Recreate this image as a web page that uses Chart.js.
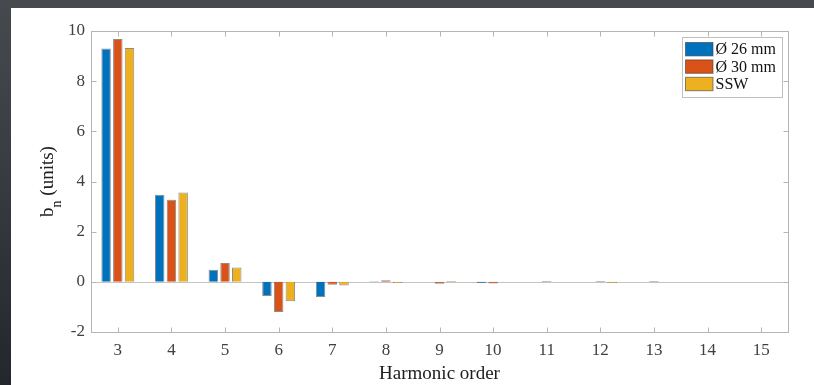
<!DOCTYPE html>
<html>
<head>
<meta charset="utf-8">
<script src="https://cdn.jsdelivr.net/npm/chart.js@4.4.1/dist/chart.umd.min.js"></script>
<style>
  html, body { margin: 0; padding: 0; width: 814px; height: 385px; overflow: hidden;
    background: linear-gradient(180deg, #46494e 0%, #3a3d43 40%, #23262d 100%); }
  #wrap { position: absolute; left: 11px; top: 8px; width: 803px; height: 377px; background: #ffffff; }
  canvas { display: block; }
</style>
</head>
<body>
<div id="wrap"><canvas id="c" width="803" height="377"></canvas></div>
<script>
// ---- data ----
const harmonicOrders = ['3','4','5','6','7','8','9','10','11','12','13','14','15'];
const seriesNames = ['Ø 26 mm', 'Ø 30 mm', 'SSW'];
const bn26 = [9.30, 3.47, 0.48, -0.56, -0.60, 0.02, 0.00, -0.05, 0.00, 0.00, 0.00, 0.00, 0.00];
const bn30 = [9.68, 3.27, 0.75, -1.20, -0.12, 0.06, -0.08, -0.07, 0.03, 0.03, 0.03, 0.00, 0.00];
const bnSSW = [9.32, 3.56, 0.57, -0.77, -0.15, -0.05, 0.03, 0.00, 0.00, -0.05, 0.00, 0.00, 0.00];
const yTicks = [-2, 0, 2, 4, 6, 8, 10];
const xTitle = 'Harmonic order';

const colors = ['#0072BD', '#D95319', '#EDB120'];
const edge = 'rgba(45,45,45,0.55)';
const axisColor = '#b5b5b5';
const textColor = '#404040';
const serif = "'Liberation Serif', 'Times New Roman', serif";

const boxPlugin = {
  id: 'boxPlugin',
  beforeDatasetsDraw(chart) {
    const {ctx, chartArea: a, scales: {y}} = chart;
    const y0 = y.getPixelForValue(0);
    ctx.save();
    ctx.strokeStyle = '#c4c4c4';
    ctx.lineWidth = 1;
    ctx.beginPath();
    ctx.moveTo(a.left, Math.round(y0) + 0.5);
    ctx.lineTo(a.right, Math.round(y0) + 0.5);
    ctx.stroke();
    ctx.restore();
  },
  afterDraw(chart) {
    const {ctx, chartArea: a, scales: {x, y}} = chart;
    ctx.save();
    ctx.strokeStyle = axisColor;
    ctx.lineWidth = 1;
    const L = Math.round(a.left) + 0.5, R = Math.round(a.right) + 0.5;
    const T = Math.round(a.top) + 0.5, B = Math.round(a.bottom) + 0.5;
    ctx.strokeRect(L, T, R - L, B - T);
    const tl = 5;
    ctx.beginPath();
    harmonicOrders.forEach((lab, i) => {
      const px = Math.round(x.getPixelForValue(i)) + 0.5;
      ctx.moveTo(px, B); ctx.lineTo(px, B - tl);
      ctx.moveTo(px, T); ctx.lineTo(px, T + tl);
    });
    yTicks.forEach(v => {
      const py = Math.round(y.getPixelForValue(v)) + 0.5;
      ctx.moveTo(L, py); ctx.lineTo(L + tl, py);
      ctx.moveTo(R, py); ctx.lineTo(R - tl, py);
    });
    ctx.stroke();

    // x title
    ctx.fillStyle = '#202020';
    ctx.font = '19px ' + serif;
    ctx.textAlign = 'center';
    ctx.textBaseline = 'middle';
    ctx.fillText(xTitle, (a.left + a.right) / 2, a.bottom + 42);

    // y title with subscript
    const cy = (a.top + a.bottom) / 2;
    ctx.translate(a.left - 38, cy);
    ctx.rotate(-Math.PI / 2);
    ctx.textAlign = 'left';
    ctx.textBaseline = 'alphabetic';
    ctx.font = '19px ' + serif;
    const wb = ctx.measureText('b').width;
    const wrest = ctx.measureText(' (units)').width;
    ctx.font = '14px ' + serif;
    const wn = ctx.measureText('n').width;
    const total = wb + wn + wrest;
    let sx = -total / 2;
    ctx.font = '19px ' + serif;
    ctx.fillText('b', sx, 0);
    ctx.font = '14px ' + serif;
    ctx.fillText('n', sx + wb, 8);
    ctx.font = '19px ' + serif;
    ctx.fillText(' (units)', sx + wb + wn, 0);
    ctx.restore();

    // legend
    ctx.save();
    const bw = 100, bh = 60;
    const bx = Math.round(a.right - 6 - bw) + 0.5, by = Math.round(a.top + 6) + 0.5;
    ctx.fillStyle = '#ffffff';
    ctx.fillRect(bx, by, bw, bh);
    ctx.strokeStyle = '#c0c0c0';
    ctx.strokeRect(bx, by, bw, bh);
    ctx.font = '16px ' + serif;
    ctx.textBaseline = 'middle';
    ctx.textAlign = 'left';
    chart.data.datasets.forEach((ds, i) => {
      const ry = by + 5 + i * 17.4;
      ctx.fillStyle = ds.backgroundColor;
      ctx.fillRect(bx + 3, ry, 27.5, 13.4);
      ctx.strokeStyle = 'rgba(60,60,60,0.6)';
      ctx.strokeRect(bx + 3, ry, 27.5, 13.4);
      ctx.fillStyle = '#111111';
      ctx.fillText(ds.label, bx + 33, ry + 7.5);
    });
    ctx.restore();
  }
};

const seriesData = [bn26, bn30, bnSSW];
new Chart(document.getElementById('c'), {
  type: 'bar',
  data: {
    labels: harmonicOrders,
    datasets: seriesNames.map((n, i) => ({
      label: n,
      data: seriesData[i],
      backgroundColor: colors[i],
      borderColor: edge,
      borderWidth: 1,
      categoryPercentage: 0.655,
      barPercentage: 0.81
    }))
  },
  options: {
    responsive: false,
    animation: false,
    devicePixelRatio: 1,
    layout: { padding: { top: 23, right: 26, left: 0, bottom: 0 } },
    plugins: { legend: { display: false }, tooltip: { enabled: false } },
    scales: {
      x: {
        offset: true,
        grid: { display: false, drawTicks: false },
        border: { display: false },
        ticks: { color: textColor, font: { family: serif, size: 17 }, padding: 8, maxRotation: 0, autoSkip: false },
        afterFit(s) { s.height = 53; }
      },
      y: {
        min: -2, max: 10,
        grid: { display: false, drawTicks: false },
        border: { display: false },
        afterBuildTicks(s) { s.ticks = yTicks.map(v => ({ value: v })); },
        ticks: { color: textColor, font: { family: serif, size: 17 }, padding: 6 },
        afterFit(s) { s.width = 80; }
      }
    }
  },
  plugins: [boxPlugin]
});
</script>
</body>
</html>
